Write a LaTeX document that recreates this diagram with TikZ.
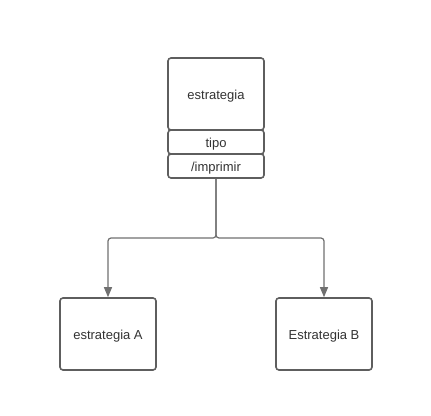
\documentclass[tikz,border=0pt]{standalone}
\usepackage{fontspec}
\setmainfont{Liberation Sans}
\usetikzlibrary{arrows.meta}
\definecolor{boxline}{HTML}{5E5E5E}
\definecolor{conn}{HTML}{707070}
\definecolor{txt}{HTML}{333333}
\begin{document}
\begin{tikzpicture}[x=1pt,y=-1pt,
  box/.style={draw=boxline,line width=1.6pt,rounded corners=3pt,fill=white,text=txt,
    font=\fontsize{13}{15}\selectfont,inner sep=0pt,text height=10pt,text depth=0pt},
  conline/.style={draw=conn,line width=1.2pt,rounded corners=3pt,-{Triangle[length=10pt,width=8pt]}}]
\useasboundingbox (0,0) rectangle (431,415);
\node[box,minimum width=96pt,minimum height=72pt] (top) at (216,94) {estrategia};
\node[box,minimum width=96pt,minimum height=24pt] (tipo) at (216,142) {tipo};
\node[box,minimum width=96pt,minimum height=24pt] (imp) at (216,166) {/imprimir};
\node[box,minimum width=96pt,minimum height=72pt] (a) at (108,334) {estrategia A};
\node[box,minimum width=96pt,minimum height=72pt] (b) at (324,334) {Estrategia B};
\coordinate (mid) at (216,238);
\draw[conline] (imp.south) -- (mid) -| (a.north);
\draw[conline] (imp.south) -- (mid) -| (b.north);
\end{tikzpicture}
\end{document}
